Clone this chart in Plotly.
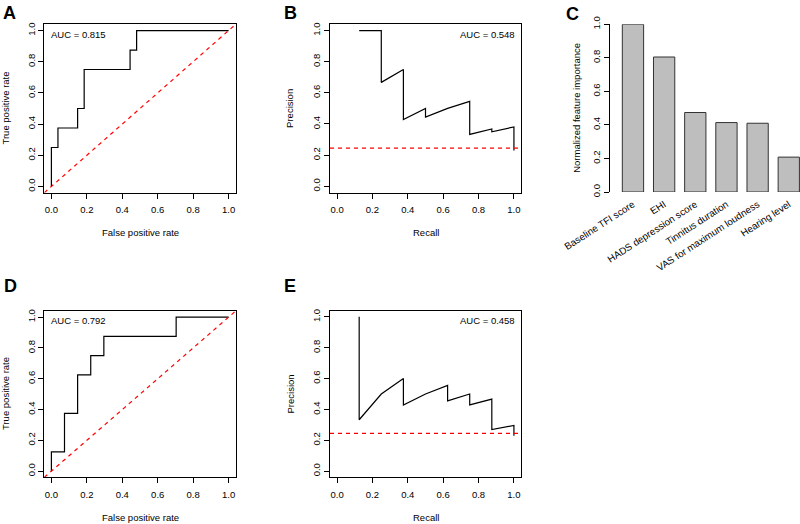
import plotly.graph_objects as go

W, H = 800, 524
FONT = "Liberation Sans, Arial, Helvetica, sans-serif"

# ---------------- data ----------------
roc_a_fpr = [0, 0, 0.037, 0.037, 0.148, 0.148, 0.185, 0.185, 0.444, 0.444, 0.481, 0.481, 1.0]
roc_a_tpr = [0, 0.25, 0.25, 0.375, 0.375, 0.5, 0.5, 0.75, 0.75, 0.875, 0.875, 1.0, 1.0]
auc_a = "AUC = 0.815"

pr_b_recall = [0.125, 0.25, 0.25, 0.375, 0.375, 0.5, 0.5, 0.625, 0.75, 0.75, 0.875, 0.875, 1.0, 1.0]
pr_b_precision = [1.0, 1.0, 0.667, 0.75, 0.429, 0.5, 0.444, 0.5, 0.545, 0.333, 0.368, 0.35, 0.381, 0.229]
auc_b = "AUC = 0.548"

features = ["Baseline TFI score", "EHI", "HADS depression score", "Tinnitus duration",
            "VAS for maximum loudness", "Hearing level"]
importance = [1.0, 0.805, 0.474, 0.414, 0.41, 0.208]

roc_d_fpr = [0, 0, 0.074, 0.074, 0.148, 0.148, 0.222, 0.222, 0.296, 0.296, 0.704, 0.704, 1.0]
roc_d_tpr = [0, 0.125, 0.125, 0.375, 0.375, 0.625, 0.625, 0.75, 0.75, 0.875, 0.875, 1.0, 1.0]
auc_d = "AUC = 0.792"

pr_e_recall = [0.125, 0.125, 0.25, 0.375, 0.375, 0.5, 0.625, 0.625, 0.75, 0.75, 0.875, 0.875, 1.0, 1.0]
pr_e_precision = [1.0, 0.333, 0.5, 0.6, 0.429, 0.5, 0.556, 0.455, 0.5, 0.429, 0.467, 0.269, 0.296, 0.229]
auc_e = "AUC = 0.458"

pr_baseline = 0.245
diag = [-0.04, 1.04]

# ---------------- helpers ----------------
def fx(px):
    return px / W

def fy(py):
    return 1 - py / H

fig = go.Figure()

line_style = dict(color="black", width=1.2)
red_dash = dict(color="#ff0000", width=1.2, dash="4px,4px")

# A
fig.add_trace(go.Scatter(x=roc_a_fpr, y=roc_a_tpr, mode="lines", line=line_style, xaxis="x", yaxis="y"))
fig.add_trace(go.Scatter(x=diag, y=diag, mode="lines", line=red_dash, xaxis="x", yaxis="y"))
# B
fig.add_trace(go.Scatter(x=pr_b_recall, y=pr_b_precision, mode="lines", line=line_style, xaxis="x2", yaxis="y2"))
fig.add_trace(go.Scatter(x=diag, y=[pr_baseline, pr_baseline], mode="lines", line=red_dash, xaxis="x2", yaxis="y2"))
# C
fig.add_trace(go.Bar(x=features, y=importance, marker=dict(color="#bebebe", line=dict(color="#333333", width=1)),
                     xaxis="x3", yaxis="y3"))
# D
fig.add_trace(go.Scatter(x=roc_d_fpr, y=roc_d_tpr, mode="lines", line=line_style, xaxis="x4", yaxis="y4"))
fig.add_trace(go.Scatter(x=diag, y=diag, mode="lines", line=red_dash, xaxis="x4", yaxis="y4"))
# E
fig.add_trace(go.Scatter(x=pr_e_recall, y=pr_e_precision, mode="lines", line=line_style, xaxis="x5", yaxis="y5"))
fig.add_trace(go.Scatter(x=diag, y=[pr_baseline, pr_baseline], mode="lines", line=red_dash, xaxis="x5", yaxis="y5"))

tickfont = dict(family=FONT, size=9.5, color="black")

def xax(left, right, anchor):
    return dict(domain=[fx(left), fx(right)], range=[-0.04, 1.04], anchor=anchor,
                showline=True, mirror=True, linecolor="black", linewidth=1,
                ticks="outside", ticklen=5, tickwidth=1, tickcolor="black",
                tick0=0, dtick=0.2, tickformat=".1f", showgrid=False, zeroline=False,
                ticklabelstandoff=3, tickfont=tickfont, fixedrange=True)

def yax(top, bottom, anchor):
    return dict(domain=[fy(bottom), fy(top)], range=[-0.04, 1.04], anchor=anchor,
                showline=True, mirror=True, linecolor="black", linewidth=1,
                ticks="outside", ticklen=5, tickwidth=1, tickcolor="black",
                tick0=0, dtick=0.2, tickformat=".1f", showgrid=False, zeroline=False,
                tickangle=-90, tickfont=tickfont, fixedrange=True)

layout = dict(
    width=W, height=H, margin=dict(l=0, r=0, t=0, b=0, autoexpand=False),
    paper_bgcolor="white", plot_bgcolor="white", showlegend=False,
    font=dict(family=FONT, size=9.5, color="black"),
    xaxis=xax(44.3, 235.7, "y"), yaxis=yax(24.3, 192.7, "x"),
    xaxis2=xax(330, 521, "y2"), yaxis2=yax(24.3, 192.5, "x2"),
    xaxis4=xax(44.3, 235.7, "y4"), yaxis4=yax(311, 477.3, "x4"),
    xaxis5=xax(330, 521, "y5"), yaxis5=yax(310.7, 477.3, "x5"),
    xaxis3=dict(domain=[fx(610), fx(800)], range=[-0.737, 5.36], anchor="y3",
                showline=False, ticks="outside", ticklen=2, tickcolor="rgba(0,0,0,0)",
                tickangle=-33, tickfont=dict(family=FONT, size=9.8, color="black"),
                showgrid=False, zeroline=False, fixedrange=True),
    yaxis3=dict(domain=[fy(192.0), fy(24.3)], range=[0, 1], anchor="x3",
                showline=True, linecolor="black", linewidth=1,
                ticks="outside", ticklen=5, tickwidth=1, tickcolor="black",
                tick0=0, dtick=0.2, tickformat=".1f", showgrid=False, zeroline=False,
                tickangle=-90, tickfont=tickfont, fixedrange=True),
    bargap=0.317,
)
fig.update_layout(**layout)

ann = []
def text(x, y, s, size=9.5, xanchor="center", yanchor="middle", angle=0, bold=False):
    ann.append(dict(x=fx(x), y=fy(y), xref="paper", yref="paper", text=f"<b>{s}</b>" if bold else s,
                    showarrow=False, xanchor=xanchor, yanchor=yanchor, textangle=angle,
                    font=dict(family=FONT, size=size, color="black")))

# panel letters
text(0.5, 0.5, "A", size=18, xanchor="left", yanchor="top", bold=True)
text(282, 0.5, "B", size=18, xanchor="left", yanchor="top", bold=True)
text(563.5, 2, "C", size=18, xanchor="left", yanchor="top", bold=True)
text(1.5, 274, "D", size=18, xanchor="left", yanchor="top", bold=True)
text(282, 274, "E", size=18, xanchor="left", yanchor="top", bold=True)

# AUC labels
text(48.5, 34.3, auc_a, xanchor="left")
text(517, 34.3, auc_b, xanchor="right")
text(48.5, 320.7, auc_d, xanchor="left")
text(517, 320.7, auc_e, xanchor="right")

# axis titles
text(140, 232, "False positive rate")
text(5, 108.5, "True positive rate", angle=-90)
text(425.5, 232, "Recall")
text(289.5, 108.4, "Precision", angle=-90)
text(576.5, 108.3, "Normalized feature importance", angle=-90)
text(140, 517.7, "False positive rate")
text(5, 394, "True positive rate", angle=-90)
text(425.5, 517.7, "Recall")
text(289.5, 394, "Precision", angle=-90)

fig.update_layout(annotations=ann)
fig.write_html("out.html", config={"displayModeBar": False},
               post_script="document.body.style.margin='0';document.body.style.overflow='hidden';")
